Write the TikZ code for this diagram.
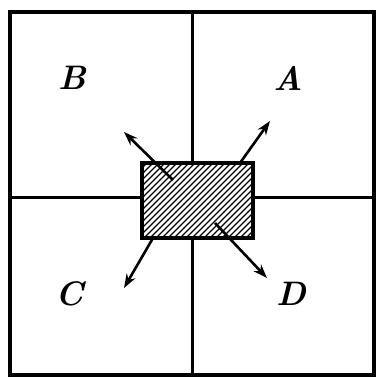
\documentclass[tikz,border=0pt]{standalone}
\usetikzlibrary{arrows.meta}
\begin{document}
\begin{tikzpicture}[x=1pt,y=-1pt,
  frame/.style={line width=3.2pt},
  divider/.style={line width=3pt},
  hatch/.style={line width=1.4pt},
  arr/.style={line width=2.6pt,-{Stealth[length=14pt,width=10pt]}},
  lbl/.style={font=\fontsize{34}{34}\selectfont\bfseries\itshape,inner sep=0pt}]
\useasboundingbox (0,0) rectangle (377,378);
% outer square and dividers
\draw[frame] (10,12) rectangle (374,375);
\coordinate (vt) at (192,12);
\coordinate (vb) at (192,375);
\coordinate (hl) at (10,197);
\coordinate (hr) at (374,197);
\draw[divider] (vt) -- (vb);
\draw[divider] (hl) -- (hr);
% hatched box
\node[draw,line width=3.2pt,fill=white,minimum width=111pt,minimum height=75pt,inner sep=0pt] (box) at (197.5,200.5) {};
\begin{scope}
\clip (142,163) rectangle (253,238);
\foreach \i in {-120,-114,...,260}{
  \draw[hatch] (\i,238) -- ++(80,-80);
}
\end{scope}
\draw[line width=3.2pt] (142,163) rectangle (253,238);
% arrows
\coordinate (s1) at (173,180);
\coordinate (t1) at (124,132);
\coordinate (s2) at (240,163);
\coordinate (t2) at (270,121);
\coordinate (s3) at (153,238);
\coordinate (t3) at (124,288);
\coordinate (s4) at (215,223);
\coordinate (t4) at (267,278);
\draw[arr] (s1) -- (t1);
\draw[arr] (s2) -- (t2);
\draw[arr] (s3) -- (t3);
\draw[arr] (s4) -- (t4);
% labels
\node[lbl] (B) at (72,78) {B};
\node[lbl] (A) at (288,78) {A};
\node[lbl] (C) at (70,294) {C};
\node[lbl] (D) at (291,294) {D};
\end{tikzpicture}
\end{document}
